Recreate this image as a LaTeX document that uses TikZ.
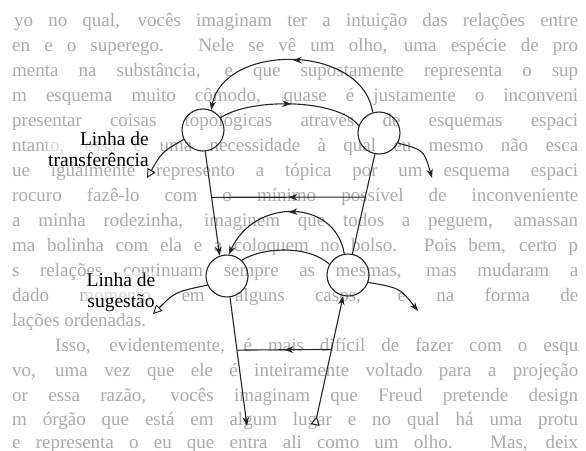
\documentclass[tikz,border=0pt]{standalone}
\usepackage{fontspec}
\setmainfont{Liberation Serif}
\usetikzlibrary{arrows.meta,decorations.markings,calc}
\begin{document}
\begin{tikzpicture}[x=1pt,y=-1pt,
  ln/.style={draw=black!85,line width=1.1pt},
  circ/.style={circle,draw=black!85,line width=1.1pt,minimum size=42pt,inner sep=0pt},
  tip/.style={-{Stealth[length=9pt,width=6.5pt]}},
  opentri/.style={-{Triangle[open,length=9pt,width=9pt,line width=1pt]}},
  midarr/.style={postaction={decorate},decoration={markings,mark=at position 0.5 with {\arrow{Stealth[length=9pt,width=6.5pt]}}}},
  bg/.style={anchor=base west,inner sep=0pt,text=black!33,font=\fontsize{19}{19}\selectfont},
  lab/.style={inner sep=1pt,font=\fontsize{19.5}{21}\selectfont,fill=white,fill opacity=0.55,text opacity=1}]
\useasboundingbox (0,0) rectangle (586,450);
\clip (0,0) rectangle (586,450);
\fill[white] (0,0) rectangle (586,450);
% background page text
\node[bg] (b1) at (14,26) {\makebox[564pt][s]{yo no qual, vocês imaginam ter a intuição das relações entre}};
\node[bg] (b2) at (12,51) {\makebox[566pt][s]{en e o superego. Nele se vê um olho, uma espécie de pro}};
\node[bg] (b3) at (12,76) {\makebox[566pt][s]{menta na substância, e que supostamente representa o sup}};
\node[bg] (b4) at (12,101) {\makebox[566pt][s]{m esquema muito cômodo, quase é justamente o inconveni}};
\node[bg] (b5) at (12,126) {\makebox[566pt][s]{presentar coisas topológicas através de esquemas espaci}};
\node[bg] (b6) at (12,151) {\makebox[566pt][s]{ntanto, essa é uma necessidade à qual eu mesmo não esca}};
\node[bg] (b7) at (12,176) {\makebox[566pt][s]{ue igualmente represento a tópica por um esquema espaci}};
\node[bg] (b8) at (12,201) {\makebox[566pt][s]{rocuro fazê-lo com o mínimo possível de inconveniente}};
\node[bg] (b9) at (12,226) {\makebox[566pt][s]{a minha rodezinha, imaginem que todos a peguem, amassan}};
\node[bg] (b10) at (12,251) {\makebox[566pt][s]{ma bolinha com ela e a coloquem no bolso. Pois bem, certo p}};
\node[bg] (b11) at (12,276) {\makebox[566pt][s]{s relações continuam sempre as mesmas, mas mudaram a}};
\node[bg] (b12) at (12,301) {\makebox[566pt][s]{dado momento em alguns casos, e na forma de}};
\node[bg] (b13) at (12,326) {lações ordenadas.};
\node[bg] (b14) at (55,351) {\makebox[523pt][s]{Isso, evidentemente, é mais difícil de fazer com o esqu}};
\node[bg] (b15) at (12,376) {\makebox[566pt][s]{vo, uma vez que ele é inteiramente voltado para a projeção}};
\node[bg] (b16) at (12,401) {\makebox[566pt][s]{or essa razão, vocês imaginam que Freud pretende design}};
\node[bg] (b17) at (12,425) {\makebox[566pt][s]{m órgão que está em algum lugar e no qual há uma protu}};
\node[bg] (b18) at (12,448.5) {\makebox[566pt][s]{e representa o eu que entra ali como um olho. Mas, deix}};
% circles
\node[circ] (A) at (203,130) {};
\node[circ] (B) at (379,133) {};
\node[circ] (C) at (227,276) {};
\node[circ] (D) at (348,275) {};
% free ends
\coordinate (t1) at (147,178);
\coordinate (t2) at (432,178);
\coordinate (t3) at (153,314);
\coordinate (t4) at (418,311);
\coordinate (t5) at (247,426);
\coordinate (t6) at (315,425);
% labels
\node[lab,align=right,anchor=east] (L1) at (150,149) {Linha de\\transferência};
\node[lab,align=center] (L2) at (121,292) {Linha de\\sugestão};
% upper arcs
\draw[ln,tip,midarr] (B.107) .. controls (362,43) and (224,43) .. (A.68);
\draw[ln,midarr] (A.35) .. controls (250,98) and (337,98) .. (B.160);
% side lines
\draw[ln,opentri] (A.206) .. controls (162,152) .. (t1);
\draw[ln,tip] (B.332) .. controls (424,150) .. (t2);
\draw[ln,opentri] (C.205) .. controls (175,292) .. (t3);
\draw[ln,tip] (D.340) .. controls (400,288) .. (t4);
% verticals between upper and lower circles
\draw[ln,tip] (A.276) -- (C.110) coordinate[pos=0.44] (h1);
\draw[ln] (B.259) -- (D.78) coordinate[pos=0.43] (h2);
\draw[ln,midarr] (h2) -- (h1);
% lower arcs
\draw[ln,tip,midarr] (D.100) .. controls (335,198) and (254,198) .. (C.85);
\draw[ln] (C.47) .. controls (265,246) and (310,246) .. (D.150);
% bottom lines
\draw[ln,tip] (C.278) -- (t5) coordinate[pos=0.41] (h3);
\draw[ln,{Triangle[open,reversed,length=9pt,width=9pt,line width=1pt]}-{Stealth[length=9pt,width=6.5pt]}] (t6) -- (D.257) coordinate[pos=0.586] (h4);
\draw[ln,midarr] (h4) -- (h3);
\end{tikzpicture}
\end{document}
